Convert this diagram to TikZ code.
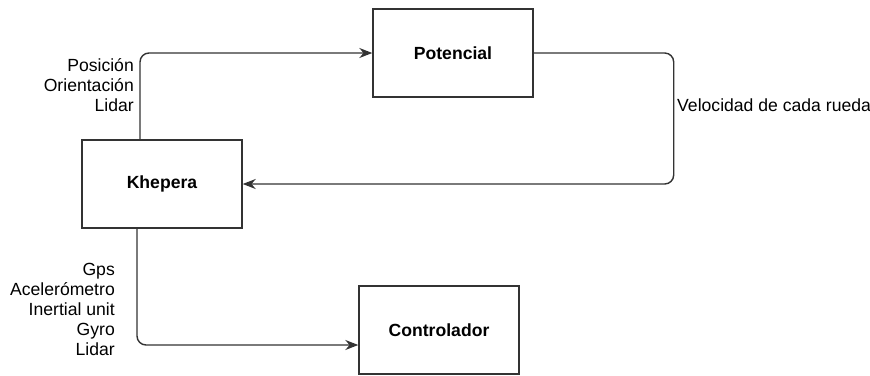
\documentclass[tikz,border=0pt]{standalone}
\usepackage{fontspec}
\setmainfont{Liberation Sans}
\usetikzlibrary{arrows.meta}
\definecolor{linegray}{HTML}{333333}
\tikzset{
  block/.style={draw=linegray, line width=1.4pt, minimum width=160pt, minimum height=88pt,
    font=\fontsize{17.6}{20}\selectfont\bfseries},
  link/.style={draw=linegray, line width=1.4pt, rounded corners=9pt, -{Stealth[length=13pt,width=10pt]}},
  lbl/.style={font=\fontsize{17.6}{20}\selectfont, inner sep=0pt}
}
\begin{document}
\begin{tikzpicture}[x=1pt,y=-1pt]
  \useasboundingbox (0,0) rectangle (870,375);
  % blocks
  \node[block] (pot) at (453,53) {Potencial};
  \node[block] (khe) at (162,184) {Khepera};
  \node[block] (ctl) at (439,330) {Controlador};
  % connectors
  \draw[link] ([xshift=-22pt]khe.north) |- (pot.west);
  \draw[link] (pot.east) -- ++(140,0) |- (khe.east);
  \draw[link] ([xshift=-25pt]khe.south) |- ([yshift=-15pt]ctl.west);
  % signal labels
  \node[lbl, anchor=east, align=right] (posl) at (134,85) {Posición\\Orientación\\Lidar};
  \node[lbl, anchor=west] (vell) at (677,105) {Velocidad de cada rueda};
  \node[lbl, anchor=east, align=right] (sensl) at (115,309) {Gps\\Acelerómetro\\Inertial unit\\Gyro\\Lidar};
\end{tikzpicture}
\end{document}
